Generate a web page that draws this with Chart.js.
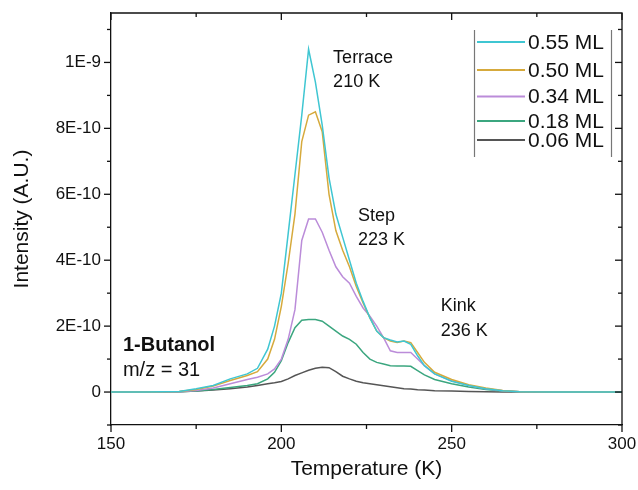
<!DOCTYPE html>
<html>
<head>
<meta charset="utf-8">
<script src="https://cdn.jsdelivr.net/npm/chart.js@4/dist/chart.umd.min.js"></script>
<style>
  html, body { margin: 0; padding: 0; background: #fff; }
  #wrap { width: 638px; height: 490px; position: relative; }
</style>
</head>
<body>
<div id="wrap"><canvas id="c" width="638" height="490"></canvas></div>
<script>
// ---- Data (intensity values in units of 1E-10 A.U.) ----
const temps = [150,160,170,175,180,185,190,193,196,198,200,202,204,206,208,210,212,214,216,218,220,222,224,226,228,230,232,234,236,238,240,242,245,250,255,260,265,270,280,290,300];
const ml055 = [0,0,0.02,0.1,0.2,0.4,0.55,0.72,1.3,2.0,3.0,4.8,6.6,8.4,10.4,9.4,8.1,6.5,5.4,4.7,4.0,3.3,2.75,2.25,1.85,1.65,1.58,1.52,1.55,1.45,1.1,0.8,0.55,0.33,0.2,0.1,0.04,0.01,0,0,0];
const ml050 = [0,0,0.02,0.08,0.18,0.35,0.5,0.62,1.0,1.6,2.6,3.9,5.4,7.6,8.4,8.5,7.9,6.0,4.9,4.3,3.8,3.2,2.7,2.25,1.85,1.65,1.55,1.5,1.55,1.5,1.2,0.9,0.6,0.38,0.22,0.12,0.05,0.01,0,0,0];
const ml034 = [0,0,0.01,0.05,0.12,0.25,0.38,0.45,0.55,0.7,1.0,1.6,2.5,4.6,5.25,5.25,4.85,4.3,3.8,3.5,3.3,2.9,2.55,2.3,2.0,1.65,1.25,1.2,1.2,1.2,1.0,0.8,0.55,0.34,0.2,0.1,0.04,0.01,0,0,0];
const ml018 = [0,0,0.01,0.03,0.08,0.14,0.2,0.25,0.4,0.6,0.95,1.5,1.95,2.18,2.2,2.2,2.15,2.0,1.85,1.7,1.6,1.45,1.2,1.0,0.9,0.85,0.8,0.79,0.79,0.78,0.65,0.52,0.38,0.25,0.15,0.08,0.03,0.01,0,0,0];
const ml006 = [0,0,0.01,0.03,0.06,0.1,0.15,0.2,0.25,0.28,0.32,0.4,0.5,0.58,0.66,0.72,0.75,0.74,0.62,0.48,0.4,0.33,0.28,0.25,0.22,0.19,0.16,0.13,0.1,0.09,0.07,0.06,0.04,0.03,0.02,0.01,0,0,0,0,0];
const seriesLabels = ['0.55 ML','0.50 ML','0.34 ML','0.18 ML','0.06 ML'];
const seriesColors = ['#3fc6d2','#d6aa3c','#bb8cd9','#3ba67f','#555555'];

const xMajorTicks = [150,200,250,300];
const xMinorTicks = [175,225,275];
const yMajorTicks = [0,2e-10,4e-10,6e-10,8e-10,1e-9];
const yTickLabels = ['0','2E-10','4E-10','6E-10','8E-10','1E-9'];
const yMinorTicks = [-1e-10,1e-10,3e-10,5e-10,7e-10,9e-10,1.1e-9];

const xTitle = 'Temperature (K)';
const yTitle = 'Intensity (A.U.)';

// annotation text anchored at (temperature, intensity in 1E-10)
const notes = [
  {text:'Terrace', t:215.2, v:10.14, font:'18px'},
  {text:'210 K',   t:215.2, v:9.40,  font:'18px'},
  {text:'Step',    t:222.5, v:5.34,  font:'18px'},
  {text:'223 K',   t:222.5, v:4.60,  font:'18px'},
  {text:'Kink',    t:246.8, v:2.60,  font:'18px'},
  {text:'236 K',   t:246.8, v:1.85,  font:'18px'},
  {text:'1-Butanol', t:153.5, v:1.40, font:'bold 20px'},
  {text:'m/z = 31',  t:153.5, v:0.64, font:'20px'}
];

const FONT = '"Liberation Sans", Arial, Helvetica, sans-serif';
const series = [ml055, ml050, ml034, ml018, ml006];

const datasets = series.map((arr, k) => ({
  label: seriesLabels[k],
  data: temps.map((t, i) => ({x: t, y: arr[i] * 1e-10})),
  borderColor: seriesColors[k],
  backgroundColor: seriesColors[k],
  borderWidth: 1.5,
  pointRadius: 0,
  tension: 0,
  fill: false
}));

const decor = {
  id: 'decor',
  afterDraw(chart) {
    const ctx = chart.ctx;
    const xs = chart.scales.x, ys = chart.scales.y, a = chart.chartArea;
    ctx.save();
    ctx.strokeStyle = '#111';
    ctx.lineWidth = 1.3;
    ctx.beginPath();
    ctx.moveTo(a.left, a.top); ctx.lineTo(a.right, a.top); ctx.lineTo(a.right, a.bottom);
    ctx.stroke();
    const tick = (x1,y1,x2,y2) => { ctx.beginPath(); ctx.moveTo(x1,y1); ctx.lineTo(x2,y2); ctx.stroke(); };
    xMajorTicks.forEach(v => { const p = xs.getPixelForValue(v);
      tick(p, a.bottom, p, a.bottom + 7); tick(p, a.top, p, a.top + 7); });
    xMinorTicks.forEach(v => { const p = xs.getPixelForValue(v);
      tick(p, a.bottom, p, a.bottom + 4); tick(p, a.top, p, a.top + 4); });
    yMajorTicks.forEach(v => { const p = ys.getPixelForValue(v);
      tick(a.left - 7, p, a.left, p); tick(a.right, p, a.right - 7, p); });
    yMinorTicks.forEach(v => { const p = ys.getPixelForValue(v);
      tick(a.left - 4, p, a.left, p); tick(a.right, p, a.right - 4, p); });

    ctx.fillStyle = '#111';
    ctx.textAlign = 'left';
    ctx.textBaseline = 'middle';
    notes.forEach(n => {
      ctx.font = n.font + ' ' + FONT;
      ctx.fillText(n.text, xs.getPixelForValue(n.t), ys.getPixelForValue(n.v * 1e-10));
    });

    // legend box (left/right bars)
    const lx0 = 474, lx1 = 611, ly0 = 30, ly1 = 157;
    ctx.strokeStyle = '#777';
    ctx.lineWidth = 1.2;
    tick(lx0 + 0.5, ly0, lx0 + 0.5, ly1);
    tick(lx1 + 0.5, ly0, lx1 + 0.5, ly1);
    const rows = [43, 71, 97.5, 122, 141];
    ctx.font = '21px ' + FONT;
    chart.data.datasets.forEach((ds, i) => {
      ctx.strokeStyle = ds.borderColor;
      ctx.lineWidth = 2;
      tick(477, rows[i] - 1, 525, rows[i] - 1);
      ctx.fillStyle = '#111';
      ctx.fillText(ds.label, 528, rows[i]);
    });
    ctx.restore();
  }
};

new Chart(document.getElementById('c'), {
  type: 'line',
  data: { datasets },
  options: {
    responsive: false,
    animation: false,
    layout: { padding: { top: 13, right: 16, left: 0, bottom: 0 } },
    plugins: { legend: { display: false }, tooltip: { enabled: false } },
    scales: {
      x: {
        type: 'linear', min: 150, max: 300,
        afterBuildTicks: s => { s.ticks = xMajorTicks.map(v => ({value: v})); },
        afterFit: s => { s.height = 65; s.paddingLeft = 0; s.paddingRight = 0; },
        grid: { display: false, drawTicks: false },
        border: { display: true, color: '#111', width: 1.3 },
        ticks: { color: '#111', padding: 9, maxRotation: 0, minRotation: 0,
                 font: { family: FONT, size: 17 }, callback: v => String(v) },
        title: { display: true, text: xTitle, color: '#111',
                 font: { family: FONT, size: 21 }, padding: { top: 0, bottom: 8 } }
      },
      y: {
        type: 'linear', min: -1e-10, max: 1.15e-9,
        afterBuildTicks: s => { s.ticks = yMajorTicks.map(v => ({value: v})); },
        afterFit: s => { s.width = 111; s.paddingTop = 0; s.paddingBottom = 0; },
        grid: { display: false, drawTicks: false },
        border: { display: true, color: '#111', width: 1.3 },
        ticks: { color: '#111', padding: 10,
                 font: { family: FONT, size: 17 },
                 callback: (v, i) => yTickLabels[i] },
        title: { display: true, text: yTitle, color: '#111',
                 font: { family: FONT, size: 21 }, padding: { top: 10, bottom: 0 } }
      }
    }
  },
  plugins: [decor]
});
</script>
</body>
</html>
